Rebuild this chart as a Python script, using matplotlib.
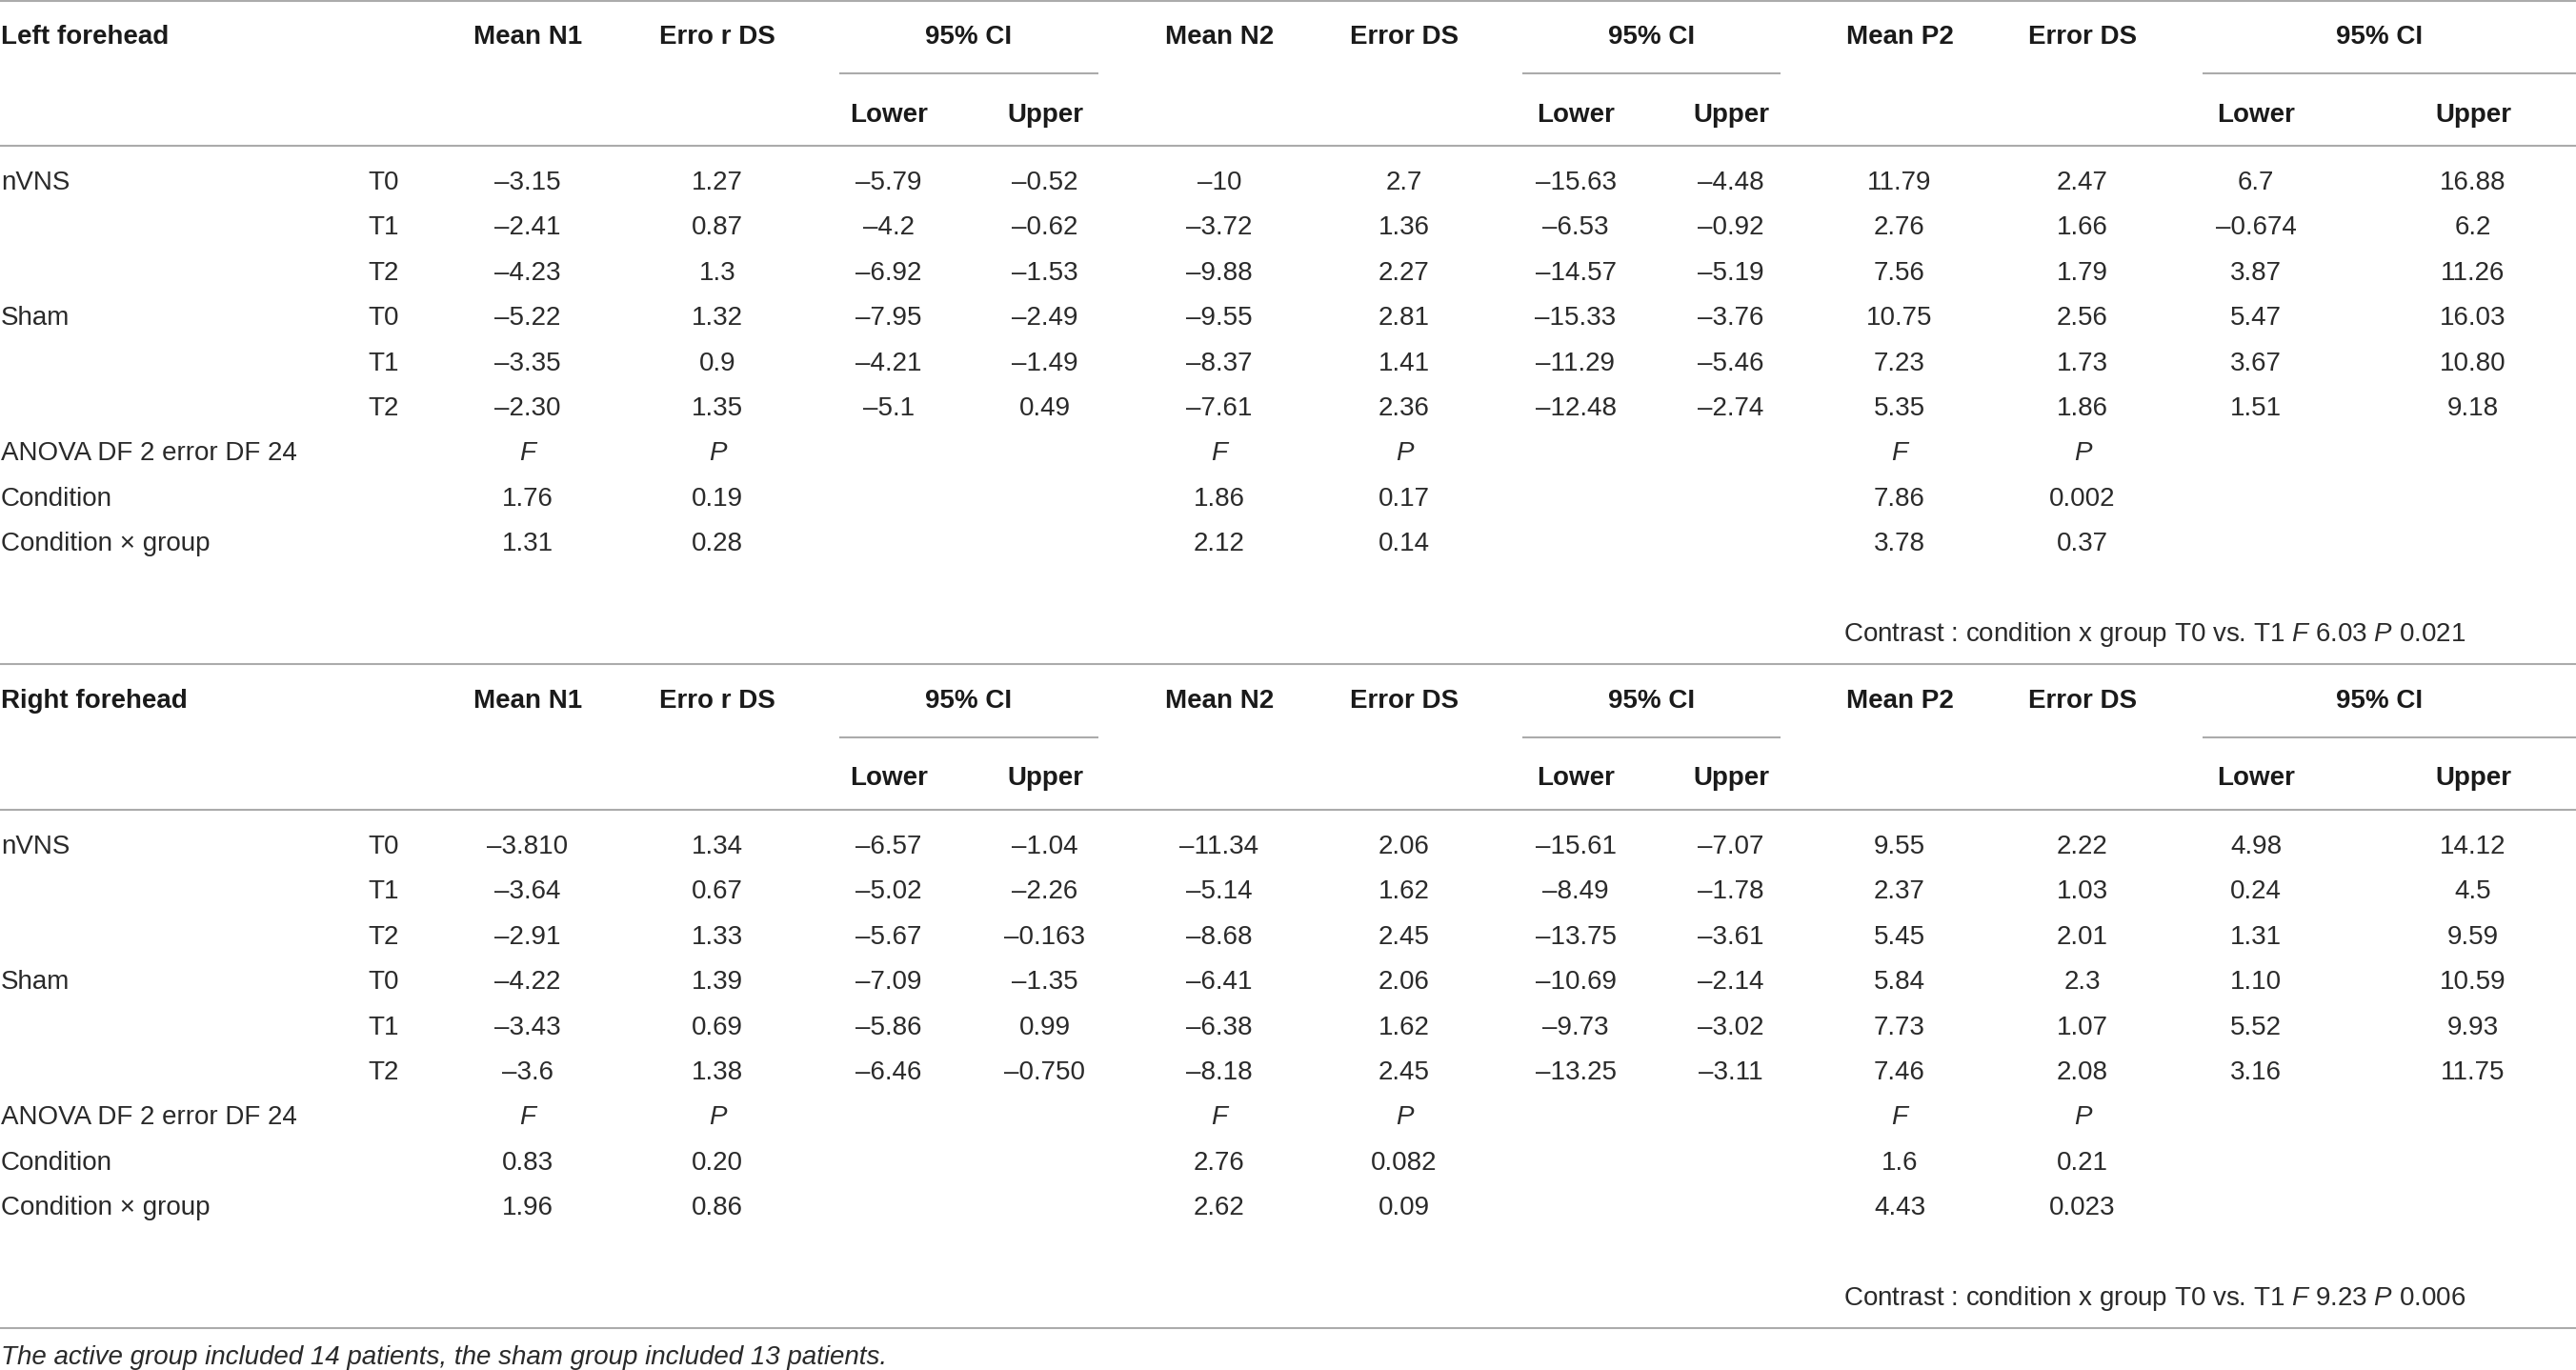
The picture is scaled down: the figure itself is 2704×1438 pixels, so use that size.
import matplotlib
matplotlib.use("Agg")
import matplotlib.pyplot as plt

plt.rcParams['font.family'] = ['Liberation Sans', 'DejaVu Sans']
plt.rcParams['mathtext.fontset'] = 'custom'
plt.rcParams['mathtext.rm'] = 'Liberation Sans'
plt.rcParams['mathtext.it'] = 'Liberation Sans:italic'
plt.rcParams['mathtext.bf'] = 'Liberation Sans:bold'

D = "\u2013"  # dash used as minus sign in the source table

# ---------------- data ----------------
section_titles = ["Left forehead", "Right forehead"]
group_labels = ["nVNS", "Sham"]
time_labels = ["T0", "T1", "T2"]
col_headers = ["Mean N1", "Erro r DS", "Mean N2", "Error DS", "Mean P2", "Error DS"]
ci_header = "95% CI"
ci_sub = ["Lower", "Upper"]
anova_label = "ANOVA DF 2 error DF 24"
anova_rows = ["Condition", "Condition \u00d7 group"]

# Left forehead
n1_mean_L = [D+"3.15", D+"2.41", D+"4.23", D+"5.22", D+"3.35", D+"2.30"]
n1_err_L = ["1.27", "0.87", "1.3", "1.32", "0.9", "1.35"]
n1_lo_L = [D+"5.79", D+"4.2", D+"6.92", D+"7.95", D+"4.21", D+"5.1"]
n1_up_L = [D+"0.52", D+"0.62", D+"1.53", D+"2.49", D+"1.49", "0.49"]
n2_mean_L = [D+"10", D+"3.72", D+"9.88", D+"9.55", D+"8.37", D+"7.61"]
n2_err_L = ["2.7", "1.36", "2.27", "2.81", "1.41", "2.36"]
n2_lo_L = [D+"15.63", D+"6.53", D+"14.57", D+"15.33", D+"11.29", D+"12.48"]
n2_up_L = [D+"4.48", D+"0.92", D+"5.19", D+"3.76", D+"5.46", D+"2.74"]
p2_mean_L = ["11.79", "2.76", "7.56", "10.75", "7.23", "5.35"]
p2_err_L = ["2.47", "1.66", "1.79", "2.56", "1.73", "1.86"]
p2_lo_L = ["6.7", D+"0.674", "3.87", "5.47", "3.67", "1.51"]
p2_up_L = ["16.88", "6.2", "11.26", "16.03", "10.80", "9.18"]
anova_F_L = [["1.76", "1.31"], ["1.86", "2.12"], ["7.86", "3.78"]]
anova_P_L = [["0.19", "0.28"], ["0.17", "0.14"], ["0.002", "0.37"]]
contrast_L = ["6.03", "0.021"]

# Right forehead
n1_mean_R = [D+"3.810", D+"3.64", D+"2.91", D+"4.22", D+"3.43", D+"3.6"]
n1_err_R = ["1.34", "0.67", "1.33", "1.39", "0.69", "1.38"]
n1_lo_R = [D+"6.57", D+"5.02", D+"5.67", D+"7.09", D+"5.86", D+"6.46"]
n1_up_R = [D+"1.04", D+"2.26", D+"0.163", D+"1.35", "0.99", D+"0.750"]
n2_mean_R = [D+"11.34", D+"5.14", D+"8.68", D+"6.41", D+"6.38", D+"8.18"]
n2_err_R = ["2.06", "1.62", "2.45", "2.06", "1.62", "2.45"]
n2_lo_R = [D+"15.61", D+"8.49", D+"13.75", D+"10.69", D+"9.73", D+"13.25"]
n2_up_R = [D+"7.07", D+"1.78", D+"3.61", D+"2.14", D+"3.02", D+"3.11"]
p2_mean_R = ["9.55", "2.37", "5.45", "5.84", "7.73", "7.46"]
p2_err_R = ["2.22", "1.03", "2.01", "2.3", "1.07", "2.08"]
p2_lo_R = ["4.98", "0.24", "1.31", "1.10", "5.52", "3.16"]
p2_up_R = ["14.12", "4.5", "9.59", "10.59", "9.93", "11.75"]
anova_F_R = [["0.83", "1.96"], ["2.76", "2.62"], ["1.6", "4.43"]]
anova_P_R = [["0.20", "0.86"], ["0.082", "0.09"], ["0.21", "0.023"]]
contrast_R = ["9.23", "0.006"]

footnote = "The active group included 14 patients, the sham group included 13 patients."

sections = [
    dict(title=section_titles[0],
         cols=[n1_mean_L, n1_err_L, n1_lo_L, n1_up_L, n2_mean_L, n2_err_L,
               n2_lo_L, n2_up_L, p2_mean_L, p2_err_L, p2_lo_L, p2_up_L],
         F=anova_F_L, P=anova_P_L, contrast=contrast_L),
    dict(title=section_titles[1],
         cols=[n1_mean_R, n1_err_R, n1_lo_R, n1_up_R, n2_mean_R, n2_err_R,
               n2_lo_R, n2_up_R, p2_mean_R, p2_err_R, p2_lo_R, p2_up_R],
         F=anova_F_R, P=anova_P_R, contrast=contrast_R),
]

# ---------------- layout ----------------
W, H = 2704, 1438
fig = plt.figure(figsize=(W / 100, H / 100), dpi=100)
ax = fig.add_axes([0, 0, 1, 1])
ax.set_xlim(0, W)
ax.set_ylim(H, 0)
ax.axis('off')

FS = 20
TXT = '#2a2a2a'
HDR = '#1a1a1a'
LINE = '#ababab'
LW = 1.5
CAP = 10  # half cap height in px

x_label = 1
x_time = 403
# column centres: N1 mean, err, lo, up, N2 mean, err, lo, up, P2 mean, err, lo, up
x_cols = [554, 753, 933, 1097, 1280, 1474, 1654, 1817, 1994, 2186, 2368, 2596]
ci_spans = [(881, 1153), (1598, 1869), (2312, 2704)]
SEC = 697
row0, rstep = 189, 47.4


def put(x, yc, s, ha='center', weight='normal', style='normal', color=TXT):
    ax.text(x, yc + CAP, s, ha=ha, va='baseline', fontsize=FS,
            fontweight=weight, fontstyle=style, color=color)


for si, sec in enumerate(sections):
    off = si * SEC
    # top rule
    ax.plot([0, W], [off + 1 if si == 0 else off, off + 1 if si == 0 else off],
            color=LINE, lw=LW, solid_capstyle='butt')
    # header row
    hy = off + 36
    put(x_label, hy, sec['title'], ha='left', weight='bold', color=HDR)
    for k, ci in enumerate([0, 1, 4, 5, 8, 9]):
        put(x_cols[ci], hy, col_headers[k], weight='bold', color=HDR)
    for (a, b) in ci_spans:
        put((a + b) / 2 if b < W else 2498, hy, ci_header, weight='bold', color=HDR)
        ax.plot([a, b], [off + 77, off + 77], color=LINE, lw=LW, solid_capstyle='butt')
    sy = off + 117.5
    for ci in [2, 6, 10]:
        put(x_cols[ci], sy, ci_sub[0], weight='bold', color=HDR)
        put(x_cols[ci + 1], sy, ci_sub[1], weight='bold', color=HDR)
    ax.plot([0, W], [off + 153, off + 153], color=LINE, lw=LW, solid_capstyle='butt')

    # data rows
    for r in range(6):
        y = off + row0 + r * rstep
        if r % 3 == 0:
            put(x_label, y, group_labels[r // 3], ha='left')
        put(x_time, y, time_labels[r % 3])
        for c, col in enumerate(sec['cols']):
            put(x_cols[c], y, col[r])

    # ANOVA block
    y = off + row0 + 6 * rstep
    put(x_label, y, anova_label, ha='left')
    for m, base in enumerate([0, 4, 8]):
        put(x_cols[base], y, "F", style='italic')
        put(x_cols[base + 1], y, "P", style='italic')
    for k in range(2):
        y = off + row0 + (7 + k) * rstep
        put(x_label, y, anova_rows[k], ha='left')
        for m, base in enumerate([0, 4, 8]):
            put(x_cols[base], y, sec['F'][m][k])
            put(x_cols[base + 1], y, sec['P'][m][k])

    # contrast line
    fval, pval = sec['contrast']
    put(1935, off + 663,
        "Contrast : condition x group T0 vs. T1 $F$ " + fval + " $P$ " + pval,
        ha='left')

# bottom rule and footnote
ax.plot([0, W], [2 * SEC, 2 * SEC], color=LINE, lw=LW, solid_capstyle='butt')
put(x_label, 1422, footnote, ha='left', style='italic')

fig.savefig("out.png", dpi=100, facecolor='white')
